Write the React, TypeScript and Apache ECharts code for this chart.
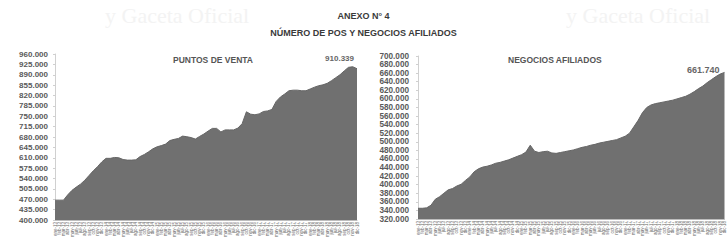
import React, { useEffect, useRef } from "react";
import * as echarts from "echarts";

const categories = [
  "ene-13","feb-13","mar-13","abr-13","may-13","jun-13","jul-13","ago-13","sep-13","oct-13","nov-13","dic-13",
  "ene-14","feb-14","mar-14","abr-14","may-14","jun-14","jul-14","ago-14","sep-14","oct-14","nov-14","dic-14",
  "ene-15","feb-15","mar-15","abr-15","may-15","jun-15","jul-15","ago-15","sep-15","oct-15","nov-15","dic-15",
  "ene-16","feb-16","mar-16","abr-16","may-16","jun-16","jul-16","ago-16","sep-16","oct-16","nov-16","dic-16",
  "ene-17","feb-17","mar-17","abr-17","may-17","jun-17","jul-17","ago-17","sep-17","oct-17","nov-17","dic-17",
  "ene-18","feb-18","mar-18","abr-18","may-18","jun-18","jul-18","ago-18","sep-18","oct-18","nov-18","dic-18",
];

const puntosDeVenta = [
  467000, 467000, 467000, 485000, 500000, 511000, 521000, 534000, 550000, 566000, 580000, 596000,
  608000, 608000, 611000, 610000, 604000, 602000, 602000, 603000, 614000, 621000, 630000, 640000,
  647000, 651000, 656000, 668000, 672000, 675000, 683000, 681000, 678000, 673000, 682000, 690000,
  700000, 709000, 709000, 697000, 704000, 704000, 704000, 710000, 725000, 765000, 757000, 755000,
  758000, 766000, 768000, 773000, 800000, 815000, 825000, 836000, 838000, 838000, 836000, 836000,
  842000, 848000, 853000, 856000, 861000, 870000, 880000, 890000, 903000, 915000, 917000, 910339,
];

const negociosAfiliados = [
  345000, 345000, 346000, 352000, 366000, 372000, 380000, 388000, 391000, 397000, 401000, 410000,
  418000, 430000, 437000, 441000, 443000, 446000, 450000, 452000, 455000, 458000, 462000, 466000,
  470000, 476000, 492000, 478000, 475000, 477000, 478000, 474000, 473000, 475000, 477000, 479000,
  481000, 484000, 487000, 489000, 492000, 494000, 497000, 499000, 501000, 503000, 505000, 509000,
  513000, 520000, 535000, 550000, 568000, 580000, 586000, 589000, 591000, 593000, 595000, 597000,
  600000, 603000, 606000, 611000, 617000, 624000, 630000, 638000, 645000, 652000, 658000, 661740,
];

const leftTicks = [
  400000, 435000, 470000, 505000, 540000, 575000, 610000, 645000, 680000,
  715000, 750000, 785000, 820000, 855000, 890000, 925000, 960000,
];
const rightTicks = [
  320000, 340000, 360000, 380000, 400000, 420000, 440000, 460000, 480000, 500000,
  520000, 540000, 560000, 580000, 600000, 620000, 640000, 660000, 680000, 700000,
];

const mainTitle = "ANEXO N° 4";
const subTitle = "NÚMERO DE POS Y NEGOCIOS AFILIADOS";
const leftTitle = "PUNTOS DE VENTA";
const rightTitle = "NEGOCIOS AFILIADOS";

const fmt = (v: number) => Math.round(v).toString().replace(/\B(?=(\d{3})+(?!\d))/g, ".");
const fmtLast = (v: number) => {
  const s = String(v / 1000);
  const parts = s.split(".");
  return parts[0] + "." + (parts[1] || "000").padEnd(3, "0");
};

export default function App() {
  const ref = useRef<HTMLDivElement>(null);
  useEffect(() => {
    if (!ref.current) return;
    const chart = echarts.init(ref.current, undefined, { renderer: "svg" });
    const font = "Liberation Sans, Arial, sans-serif";
    const areaColor = "#707070";
    const labelColor = "#5a5a5a";
    const xAxisCommon = (gridIndex: number) => ({
      type: "category" as const,
      gridIndex,
      data: categories,
      boundaryGap: false,
      axisLine: { show: true, lineStyle: { color: "#bdbdbd", width: 1 } },
      axisTick: { show: false },
      axisLabel: {
        interval: 0,
        rotate: 90,
        fontSize: 4.5,
        color: "#666",
        fontFamily: font,
        margin: 2,
      },
    });
    const yAxisCommon = (gridIndex: number, min: number, max: number, ticks: number[], fs: number, margin: number) => ({
      type: "value" as const,
      gridIndex,
      min,
      max,
      axisLine: { show: true, lineStyle: { color: "#d0d0d0", width: 1 } },
      axisTick: { show: true, length: 2, lineStyle: { color: "#d0d0d0" }, customValues: ticks },
      splitLine: { show: false },
      axisLabel: {
        customValues: ticks,
        showMinLabel: true,
        showMaxLabel: true,
        hideOverlap: false,
        formatter: (v: number) => fmt(v),
        fontSize: fs,
        lineHeight: 7,
        fontWeight: "bold",
        color: labelColor,
        fontFamily: font,
        margin,
      },
    });
    const n = categories.length;
    chart.setOption({
      animation: false,
      backgroundColor: "#ffffff",
      textStyle: { fontFamily: font },
      title: [
        { text: mainTitle, left: "center", top: 6, textStyle: { fontSize: 9, fontWeight: "bold", color: "#3a3a3a", fontFamily: font } },
        { text: subTitle, left: "center", top: 23, textStyle: { fontSize: 9, fontWeight: "bold", color: "#3a3a3a", fontFamily: font } },
        { text: leftTitle, left: 168, top: 50, textStyle: { fontSize: 8.5, fontWeight: "bold", color: "#555", fontFamily: font } },
        { text: rightTitle, left: 503, top: 50, textStyle: { fontSize: 8.5, fontWeight: "bold", color: "#555", fontFamily: font } },
      ],
      grid: [
        { left: 55, top: 54, width: 302, bottom: 23 },
        { left: 418, top: 56, width: 312, bottom: 24 },
      ],
      xAxis: [xAxisCommon(0), xAxisCommon(1)],
      yAxis: [
        yAxisCommon(0, 400000, 960000, leftTicks, 8, 7),
        yAxisCommon(1, 320000, 700000, rightTicks, 8.2, 9),
      ],
      graphic: [
        { type: "text", z: -5, left: 105, top: 4, style: { text: "y Gaceta Oficial", fontSize: 22, fontFamily: "Liberation Serif, serif", fill: "#f3f3f3" } },
        { type: "text", z: -5, left: 566, top: 4, style: { text: "y Gaceta Oficial", fontSize: 22, fontFamily: "Liberation Serif, serif", fill: "#f3f3f3" } },
      ],
      series: [
        {
          type: "line",
          xAxisIndex: 0,
          yAxisIndex: 0,
          data: puntosDeVenta,
          symbol: "none",
          lineStyle: { color: "#666", width: 1 },
          areaStyle: { color: areaColor, opacity: 1, origin: "start" },
          markPoint: {
            symbol: "circle",
            symbolSize: 0,
            data: [{ coord: [n - 1, puntosDeVenta[n - 1]] }],
            label: {
              show: true,
              formatter: () => fmtLast(puntosDeVenta[n - 1]),
              position: "left",
              offset: [2, -10],
              fontSize: 8,
              fontWeight: "bold",
              color: "#666",
              fontFamily: font,
            },
          },
        },
        {
          type: "line",
          xAxisIndex: 1,
          yAxisIndex: 1,
          data: negociosAfiliados,
          symbol: "none",
          lineStyle: { color: "#666", width: 1 },
          areaStyle: { color: areaColor, opacity: 1, origin: "start" },
          markPoint: {
            symbol: "circle",
            symbolSize: 0,
            data: [{ coord: [n - 1, negociosAfiliados[n - 1]] }],
            label: {
              show: true,
              formatter: () => fmtLast(negociosAfiliados[n - 1]),
              position: "left",
              offset: [0, -2],
              fontSize: 9,
              fontWeight: "bold",
              color: "#666",
              fontFamily: font,
            },
          },
        },
      ],
    });
    return () => chart.dispose();
  }, []);
  return (
    <div
      ref={ref}
      style={{ position: "absolute", left: 0, top: 0, width: 727, height: 243 }}
    />
  );
}
